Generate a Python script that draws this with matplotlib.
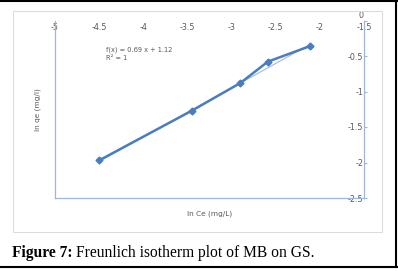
import matplotlib
matplotlib.use("Agg")
import matplotlib.pyplot as plt
from matplotlib.patches import Rectangle
from matplotlib.lines import Line2D

# ln Ce vs ln qe
ln_ce = [-4.5, -3.45, -2.9, -2.59, -2.11]
ln_qe = [-1.97, -1.27, -0.88, -0.58, -0.36]
slope, intercept = 0.69, 1.12

xticks = [-5, -4.5, -4, -3.5, -3, -2.5, -2, -1.5]
xtick_labels = ['-5', '-4.5', '-4', '-3.5', '-3', '-2.5', '-2', '-1.5']
yticks = [0, -0.5, -1, -1.5, -2, -2.5]
ytick_labels = ['0', '-0.5', '-1', '-1.5', '-2', '-2.5']

blue = '#4a7dbf'
gray = '#595959'
spine_c = '#9bb7dc'

fig = plt.figure(figsize=(3.98, 2.71), dpi=100)

# outer frame and chart area
fig.add_artist(Line2D([0, 1], [0.997, 0.997], color='black', lw=1.5))
fig.add_artist(Line2D([0, 1], [0.015, 0.015], color='black', lw=1.5))
fig.add_artist(Line2D([0.994, 0.994], [0.015, 0.997], color='black', lw=1.5))
fig.add_artist(Rectangle((13 / 398, 1 - 232 / 271), 369 / 398, 221 / 271,
                         transform=fig.transFigure, fill=False,
                         edgecolor='#dcdcdc', lw=0.8))

ax = fig.add_axes([55 / 398, 1 - 198 / 271, 309 / 398, 177.5 / 271])
ax.set_xlim(-5, -1.5)
ax.set_ylim(-2.5, 0)

# trendline
fit_x = [ln_ce[0], ln_ce[-1]]
fit_y = [slope * v + intercept for v in fit_x]
ax.plot(fit_x, fit_y, color='#9ebbe0', lw=0.8, zorder=2)
ax.plot(ln_ce, ln_qe, color=blue, lw=1.8, marker='D', ms=3.5, zorder=3)

ax.text(0.165, 0.834, 'f(x) = 0.69 x + 1.12', transform=ax.transAxes,
        fontsize=4.8, color=gray, va='center')
ax.text(0.165, 0.789, 'R² = 1', transform=ax.transAxes,
        fontsize=4.8, color=gray, va='center')

for s in ['left', 'right', 'bottom']:
    ax.spines[s].set_color(spine_c)
    ax.spines[s].set_linewidth(0.9)
ax.spines['top'].set_visible(False)

ax.set_xticks(xticks)
ax.set_xticklabels(xtick_labels)
ax.set_yticks(yticks)
ax.set_yticklabels(ytick_labels)
ax.tick_params(axis='x', bottom=False, labelbottom=False, top=False,
               labeltop=True, pad=-5.5, labelsize=5.8, labelcolor=gray)
ax.tick_params(axis='y', left=False, labelleft=False, right=True,
               labelright=True, length=2, color=spine_c, pad=-2.5,
               labelsize=5.8, labelcolor=gray)
for t in ax.xaxis.get_major_ticks():
    t.label2.set_verticalalignment('top')
for t in ax.yaxis.get_major_ticks():
    t.label2.set_horizontalalignment('right')
# the "0" sits just above the top axis line
ax.yaxis.get_major_ticks()[0].label2.set_verticalalignment('bottom')

ax.set_xlabel('ln Ce (mg/L)', fontsize=5.3, color=gray, labelpad=9)
ax.set_ylabel('ln qe (mg/l)', fontsize=5.3, color=gray, labelpad=10)

# caption
cap1 = fig.text(12 / 398, 1 - 253 / 271, 'Figure 7:', fontsize=11.2,
                fontweight='bold', family='Liberation Serif', va='center')
fig.canvas.draw()
bb = cap1.get_window_extent().transformed(fig.transFigure.inverted())
fig.text(bb.x1 + 0.008, 1 - 253 / 271,
         'Freunlich isotherm plot of MB on GS.', fontsize=11.2,
         family='Liberation Serif', va='center')

fig.savefig('out.png', dpi=100)
